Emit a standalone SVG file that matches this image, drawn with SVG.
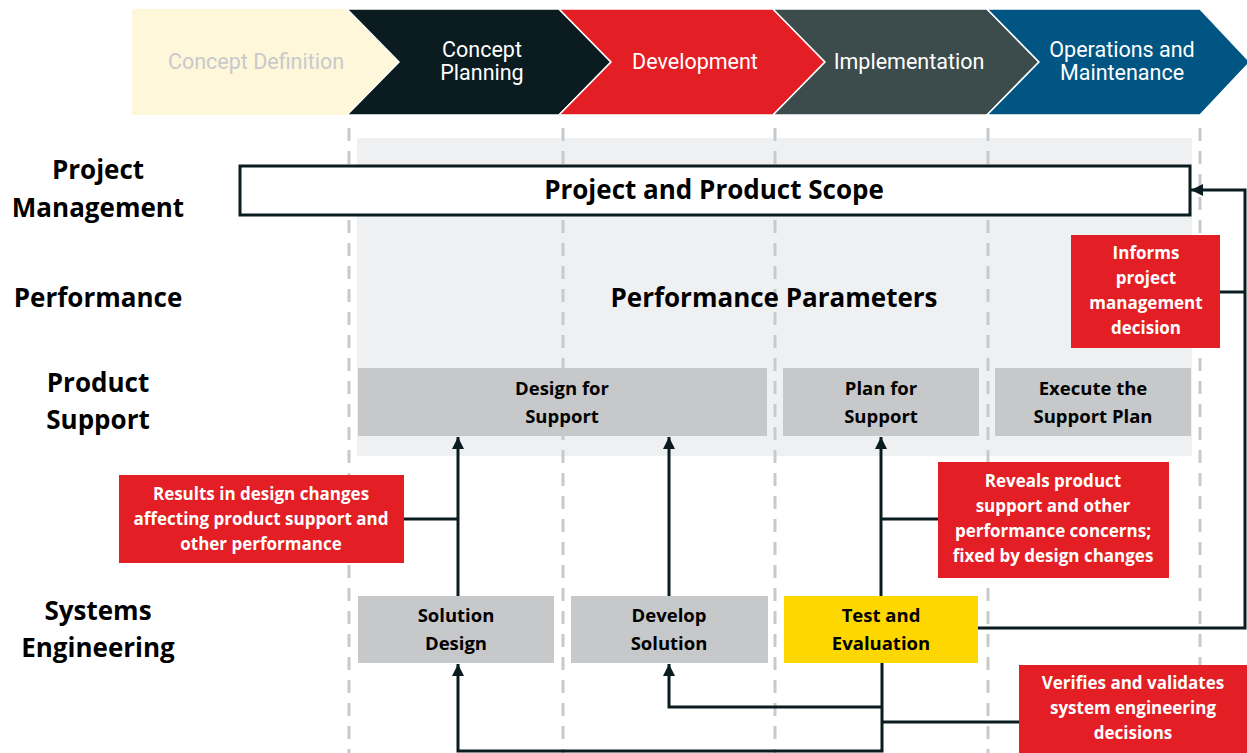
<svg xmlns="http://www.w3.org/2000/svg" width="1247" height="753" viewBox="0 0 1247 753">
<defs>
<style>
.chev{stroke:#ffffff;stroke-width:1.5}
.ct{font-family:Roboto,"Liberation Sans",sans-serif;font-size:21.5px;fill:#ffffff;text-anchor:middle}
.row{font-family:"Open Sans","Liberation Sans",sans-serif;font-weight:bold;font-size:26px;fill:#000;text-anchor:middle}
.box{fill:#C6C8CA}
.bt{font-family:"Open Sans","Liberation Sans",sans-serif;font-weight:bold;font-size:18.5px;fill:#000;text-anchor:middle}
.red{fill:#E31E24}
.rt{font-family:"Open Sans","Liberation Sans",sans-serif;font-weight:bold;font-size:17px;fill:#fff;text-anchor:middle}
.ttl{font-family:"Open Sans","Liberation Sans",sans-serif;font-weight:bold;font-size:26px;fill:#000;text-anchor:middle}
.dash{stroke:#C8C9CB;stroke-width:3;stroke-dasharray:13 10;fill:none}
.conn{stroke:#0A1C1F;stroke-width:3;fill:none}
</style>
<marker id="ah" viewBox="0 0 10 10" refX="10" refY="5" markerWidth="4" markerHeight="4" orient="auto" markerUnits="strokeWidth">
<path d="M0,0 L10,5 L0,10 Z" fill="#0A1C1F"/>
</marker>
</defs>
<rect x="0" y="0" width="1247" height="753" fill="#fff"/>
<g id="phases">
<g id="ph-concept-definition">
<polygon points="132,9 347,9 399,62 347,115 132,115" fill="#FEF7DA"/>
<text class="ct" x="256" y="69" style="fill:#C9C9CB">Concept Definition</text>
</g>
<g id="ph-concept-planning">
<polygon class="chev" points="347,9 559,9 611,62 559,115 347,115 399,62" fill="#0A1C1F"/>
<text class="ct" x="482" y="57">Concept</text>
<text class="ct" x="482" y="80">Planning</text>
</g>
<g id="ph-development">
<polygon class="chev" points="559,9 773,9 825,62 773,115 559,115 611,62" fill="#E31E24"/>
<text class="ct" x="695" y="69">Development</text>
</g>
<g id="ph-implementation">
<polygon class="chev" points="773,9 987,9 1039,62 987,115 773,115 825,62" fill="#3C4B4B"/>
<text class="ct" x="909" y="69">Implementation</text>
</g>
<g id="ph-operations">
<polygon class="chev" points="987,9 1200,9 1250,62 1200,115 987,115 1039,62" fill="#005583"/>
<text class="ct" x="1122" y="57">Operations and</text>
<text class="ct" x="1122" y="80">Maintenance</text>
</g>
</g>
<rect id="panel" x="357" y="138" width="835" height="318" fill="#EFF0F2"/>
<g id="dividers">
<line class="dash" x1="349" y1="128" x2="349" y2="753"/>
<line class="dash" x1="563" y1="128" x2="563" y2="753"/>
<line class="dash" x1="775" y1="128" x2="775" y2="753"/>
<line class="dash" x1="988" y1="128" x2="988" y2="753"/>
<line class="dash" x1="1200" y1="128" x2="1200" y2="753"/>
</g>
<g id="row-labels">
<text class="row" x="98" y="179">Project</text>
<text class="row" x="98" y="217">Management</text>
<text class="row" x="98" y="307">Performance</text>
<text class="row" x="98" y="392">Product</text>
<text class="row" x="98" y="429">Support</text>
<text class="row" x="98" y="620">Systems</text>
<text class="row" x="98" y="657">Engineering</text>
</g>
<g id="scope">
<rect x="240" y="166" width="950" height="49" fill="#fff" stroke="#0A1C1F" stroke-width="3"/>
<text class="ttl" x="714" y="199">Project and Product Scope</text>
</g>
<g id="perf-params">
<text class="ttl" x="774" y="307">Performance Parameters</text>
</g>
<g id="design-for-support">
<rect class="box" x="358" y="368" width="409" height="68"/>
<text class="bt" x="562" y="395">Design for</text>
<text class="bt" x="562" y="423">Support</text>
</g>
<g id="plan-for-support">
<rect class="box" x="783" y="368" width="196" height="68"/>
<text class="bt" x="881" y="395">Plan for</text>
<text class="bt" x="881" y="423">Support</text>
</g>
<g id="execute-support-plan">
<rect class="box" x="995" y="368" width="196" height="68"/>
<text class="bt" x="1093" y="395">Execute the</text>
<text class="bt" x="1093" y="423">Support Plan</text>
</g>
<g id="solution-design">
<rect class="box" x="358" y="596" width="196" height="67"/>
<text class="bt" x="456" y="622">Solution</text>
<text class="bt" x="456" y="650">Design</text>
</g>
<g id="develop-solution">
<rect class="box" x="571" y="596" width="197" height="67"/>
<text class="bt" x="669" y="622">Develop</text>
<text class="bt" x="669" y="650">Solution</text>
</g>
<g id="test-evaluation">
<rect x="784" y="596" width="194" height="67" fill="#FFD700"/>
<text class="bt" x="881" y="622">Test and</text>
<text class="bt" x="881" y="650">Evaluation</text>
</g>
<g id="connectors">
<path class="conn" d="M458,596 V437" marker-end="url(#ah)"/>
<path class="conn" d="M404,519 H458"/>
<path class="conn" d="M669,596 V437" marker-end="url(#ah)"/>
<path class="conn" d="M881,596 V437" marker-end="url(#ah)"/>
<path class="conn" d="M881,519 H938"/>
<path class="conn" d="M978,628 H1245 V190 H1191" marker-end="url(#ah)"/>
<path class="conn" d="M1220,292 H1245"/>
<path class="conn" d="M882,663 V751 H458 V664" marker-end="url(#ah)"/>
<path class="conn" d="M882,707 H669 V664" marker-end="url(#ah)"/>
<path class="conn" d="M882,722 H1019"/>
</g>
<g id="note-informs">
<rect class="red" x="1071" y="235" width="149" height="113"/>
<text class="rt" x="1146" y="259">Informs</text>
<text class="rt" x="1146" y="284">project</text>
<text class="rt" x="1146" y="309">management</text>
<text class="rt" x="1146" y="334">decision</text>
</g>
<g id="note-results">
<rect class="red" x="119" y="475" width="285" height="88"/>
<text class="rt" x="261" y="500">Results in design changes</text>
<text class="rt" x="261" y="525">affecting product support and</text>
<text class="rt" x="261" y="550">other performance</text>
</g>
<g id="note-reveals">
<rect class="red" x="938" y="462" width="231" height="116"/>
<text class="rt" x="1053" y="487">Reveals product</text>
<text class="rt" x="1053" y="512">support and other</text>
<text class="rt" x="1053" y="537">performance concerns;</text>
<text class="rt" x="1053" y="562">fixed by design changes</text>
</g>
<g id="note-verifies">
<rect class="red" x="1019" y="665" width="228" height="88"/>
<text class="rt" x="1133" y="689">Verifies and validates</text>
<text class="rt" x="1133" y="714">system engineering</text>
<text class="rt" x="1133" y="739">decisions</text>
</g>
</svg>
